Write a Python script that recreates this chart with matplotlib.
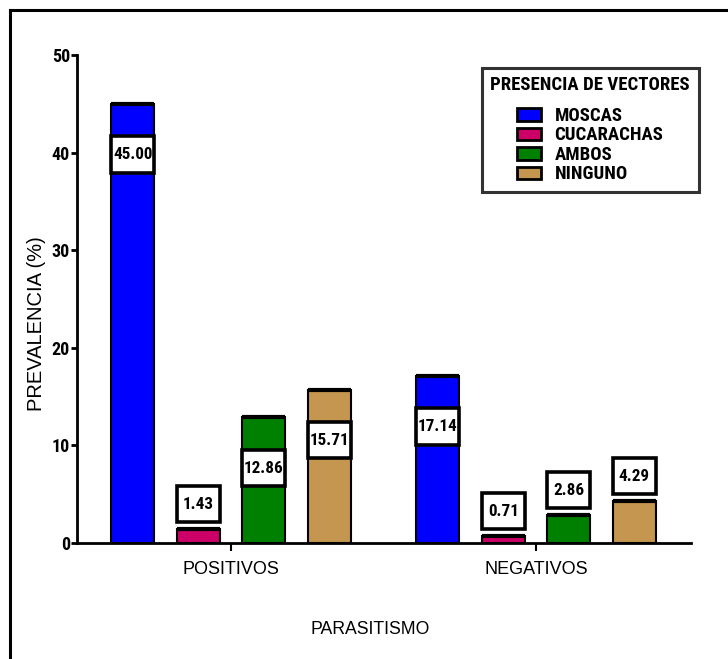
import matplotlib
matplotlib.use("Agg")
import matplotlib.pyplot as plt
import numpy as np
from matplotlib.patches import Rectangle, Patch
from matplotlib.lines import Line2D

groups = ["POSITIVOS", "NEGATIVOS"]
series = ["MOSCAS", "CUCARACHAS", "AMBOS", "NINGUNO"]
moscas = [45.00, 17.14]
cucarachas = [1.43, 0.71]
ambos = [12.86, 2.86]
ninguno = [15.71, 4.29]
values = [moscas, cucarachas, ambos, ninguno]
colors = ["#0000FF", "#CC0066", "#008000", "#C4964F"]
yticks = [0, 10, 20, 30, 40, 50]

NARROW = ["Roboto Condensed", "PT Sans Narrow", "DejaVu Sans"]
REG = ["Liberation Sans", "DejaVu Sans"]

W, H = 728, 659
fig = plt.figure(figsize=(W / 100, H / 100), dpi=100)
fig.patch.set_facecolor("white")

ax = fig.add_axes([77 / W, 1 - 543 / H, (691 - 77) / W, (543 - 55) / H])
ax.set_xlim(-0.505, 1.508)
ax.set_ylim(0, 50)

step = 0.2148
width = 0.141
x = np.arange(len(groups))
box_h = 3.7
for i, (vals, c) in enumerate(zip(values, colors)):
    xs = x + (i - 1.5) * step
    ax.bar(xs, vals, width=width, color=c, edgecolor="black", linewidth=1.5, zorder=2)
    ax.hlines(vals, xs - width / 2, xs + width / 2, colors="black", linewidth=3, zorder=3)
    for xi, v in zip(xs, vals):
        if v > 10:
            cy = v - 5.2
        else:
            cy = v + 0.5 + box_h / 2 + 0.2
        ax.add_patch(Rectangle((xi - width / 2, cy - box_h / 2), width, box_h,
                               facecolor="white", edgecolor="black", linewidth=2.6, zorder=4))
        ax.text(xi, cy, f"{v:.2f}", ha="center", va="center", fontsize=12.3,
                fontweight="bold", family=NARROW, zorder=5)

for s in ["top", "right"]:
    ax.spines[s].set_visible(False)
ax.spines["left"].set_linewidth(2)
ax.spines["bottom"].set_linewidth(2)
ax.spines["left"].set_bounds(0, 50)

ax.set_yticks(yticks)
ax.set_yticklabels([str(t) for t in yticks], fontsize=13, fontweight="bold", family=NARROW)
ax.tick_params(axis="y", direction="out", length=4, width=2, pad=1)
ax.set_xticks(x)
ax.set_xticklabels(groups, fontsize=13, family=REG)
ax.tick_params(axis="x", direction="out", length=6, width=1.5, pad=7)

fig.text(36.5 / W, 1 - 324 / H, "PREVALENCIA (%)", rotation=90, ha="center", va="center",
         fontsize=14.5, family=REG)
fig.text(370 / W, 1 - 630 / H, "PARASITISMO", ha="center", va="center",
         fontsize=12.7, family=REG)

handles = [Patch(facecolor=c, edgecolor="black", linewidth=2) for c in colors]
leg = ax.legend(handles, series, title="PRESENCIA DE VECTORES",
                loc="upper left", bbox_to_anchor=(482 / W, 1 - 68 / H),
                bbox_transform=fig.transFigure,
                prop={"family": NARROW, "weight": "bold", "size": 13.5},
                title_fontproperties={"family": NARROW, "weight": "bold", "size": 13.5},
                frameon=True, fancybox=False, borderpad=0.45, labelspacing=0.08,
                handlelength=1.3, handleheight=0.65, handletextpad=0.7,
                borderaxespad=0)
leg.get_frame().set_edgecolor("black")
leg.get_frame().set_linewidth(2.2)
leg._legend_box.align = "center"
leg._legend_box.sep = 9

fig.add_artist(Line2D([10 / W, 727 / W], [1 - 10 / H, 1 - 10 / H], color="black",
                      linewidth=2.2, transform=fig.transFigure))
fig.add_artist(Line2D([10 / W, 10 / W], [1 - 10 / H, 0], color="black",
                      linewidth=2.2, transform=fig.transFigure))

fig.savefig("out.png", dpi=100, facecolor="white")
